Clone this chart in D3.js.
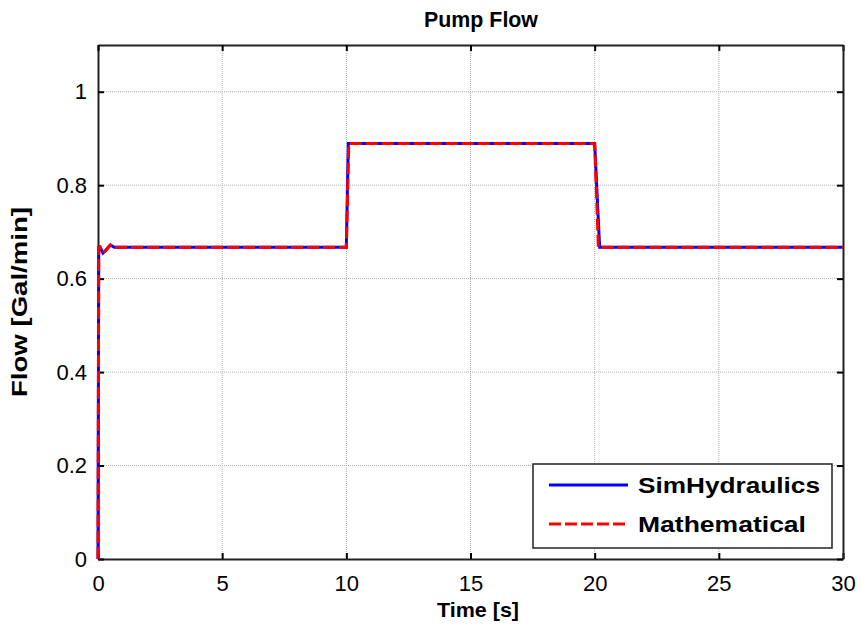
<!DOCTYPE html>
<html>
<head>
<meta charset="utf-8">
<script src="https://cdn.jsdelivr.net/npm/d3@7"></script>
<style>
  body { margin: 0; background: #fff; }
  svg text { font-family: Arial, "Liberation Sans", sans-serif; }
</style>
</head>
<body>
<svg id="chart" width="861" height="636"></svg>
<script>
// data
var simTime = [0, 0.03, 0.08, 0.2, 0.3, 0.5, 0.65, 10, 10.08, 20, 20.2, 30]
var simFlow = [0, 0.667, 0.668, 0.655, 0.66, 0.672, 0.667, 0.667, 0.889, 0.889, 0.667, 0.667]
var mathTime = [0, 0.03, 0.08, 0.2, 0.3, 0.5, 0.65, 10, 10.1, 20, 20.15, 30]
var mathFlow = [0, 0.667, 0.668, 0.655, 0.66, 0.672, 0.667, 0.667, 0.889, 0.889, 0.667, 0.667]
var xTicks = [0, 5, 10, 15, 20, 25, 30]
var yTicks = [0, 0.2, 0.4, 0.6, 0.8, 1]
var seriesNames = ["SimHydraulics", "Mathematical"]

window.onload = () => {
  draw_chart()
}

function draw_chart(){
  var svg = d3.select("#chart")
  var margin = {top: 45, right: 18, bottom: 77, left: 98},
      width = 861 - margin.left - margin.right,
      height = 636 - margin.top - margin.bottom

  var g = svg.append("g")
    .attr("transform", "translate(" + margin.left + "," + margin.top + ")")

  var x = d3.scaleLinear().domain([0, 30]).range([0, width])
  var y = d3.scaleLinear().domain([0, 1.1]).range([height, 0])

  // grid
  g.append("g")
    .selectAll("line")
    .data(xTicks.slice(1, -1))
    .enter().append("line")
      .attr("x1", d => x(d)).attr("x2", d => x(d))
      .attr("y1", 0).attr("y2", height)
      .attr("stroke", "#b0b0b0")
      .attr("stroke-width", 1)
      .attr("stroke-dasharray", "1,1")
  g.append("g")
    .selectAll("line")
    .data(yTicks.slice(1))
    .enter().append("line")
      .attr("x1", 0).attr("x2", width)
      .attr("y1", d => y(d)).attr("y2", d => y(d))
      .attr("stroke", "#b0b0b0")
      .attr("stroke-width", 1)
      .attr("stroke-dasharray", "1,1")

  // axes, ticks inside
  var xAxis = g.append("g")
    .attr("transform", "translate(0," + height + ")")
    .call(d3.axisBottom(x).tickValues(xTicks).tickSizeInner(-6).tickSizeOuter(0).tickPadding(16))
  var yAxis = g.append("g")
    .call(d3.axisLeft(y).tickValues(yTicks).tickFormat(d3.format("")).tickSizeInner(-6).tickSizeOuter(0).tickPadding(11))
  g.append("g")
    .call(d3.axisTop(x).tickValues(xTicks).tickSizeInner(-6).tickSizeOuter(0).tickFormat(""))
  g.append("g")
    .attr("transform", "translate(" + width + ",0)")
    .call(d3.axisRight(y).tickValues(yTicks).tickSizeInner(-6).tickSizeOuter(0).tickFormat(""))

  g.selectAll(".domain").attr("stroke", "#222").attr("stroke-width", 2)
  g.selectAll(".tick line").attr("stroke", "#000").attr("stroke-width", 2)
  g.selectAll(".tick text").attr("font-size", "22px").attr("fill", "#000")
  xAxis.selectAll(".tick text").attr("dy", "0.71em")

  // lines
  var line = d3.line()
    .x(d => x(d[0]))
    .y(d => y(d[1]))

  var simData = simTime.map((t, i) => [t, simFlow[i]])
  var mathData = mathTime.map((t, i) => [t, mathFlow[i]])

  g.append("path")
    .datum(simData)
    .attr("fill", "none")
    .attr("stroke", "#0000ff")
    .attr("stroke-width", 3)
    .attr("d", line)

  g.append("path")
    .datum(mathData)
    .attr("fill", "none")
    .attr("stroke", "#ff0000")
    .attr("stroke-width", 3)
    .attr("stroke-dasharray", "12,4")
    .attr("d", line)

  // title and labels
  svg.append("text")
    .attr("x", 481)
    .attr("y", 27)
    .attr("text-anchor", "middle")
    .attr("font-size", "22px")
    .attr("font-weight", "bold")
    .attr("textLength", 114)
    .attr("lengthAdjust", "spacingAndGlyphs")
    .text("Pump Flow")

  svg.append("text")
    .attr("x", 478)
    .attr("y", 617)
    .attr("text-anchor", "middle")
    .attr("font-size", "21px")
    .attr("font-weight", "bold")
    .attr("textLength", 82)
    .attr("lengthAdjust", "spacingAndGlyphs")
    .text("Time [s]")

  svg.append("text")
    .attr("transform", "translate(27," + (margin.top + height / 2) + ") rotate(-90)")
    .attr("text-anchor", "middle")
    .attr("font-size", "22px")
    .attr("font-weight", "bold")
    .attr("textLength", 190)
    .attr("lengthAdjust", "spacingAndGlyphs")
    .text("Flow [Gal/min]")

  // legend
  var legend = svg.append("g").attr("transform", "translate(533,464)")
  legend.append("rect")
    .attr("width", 299).attr("height", 84)
    .attr("fill", "#fff")
    .attr("stroke", "#222")
    .attr("stroke-width", 1.5)

  var colors = ["#0000ff", "#ff0000"]
  var dashes = [null, "12,4"]
  var textLens = [182, 168]
  seriesNames.forEach(function(name, i){
    var ly = 21 + i * 39
    legend.append("line")
      .attr("x1", 16).attr("x2", 95)
      .attr("y1", ly).attr("y2", ly)
      .attr("stroke", colors[i])
      .attr("stroke-width", 3)
      .attr("stroke-dasharray", dashes[i])
    legend.append("text")
      .attr("x", 105).attr("y", ly)
      .attr("dy", "0.35em")
      .attr("font-size", "22px")
      .attr("font-weight", "bold")
      .attr("textLength", textLens[i])
      .attr("lengthAdjust", "spacingAndGlyphs")
      .text(name)
  })
}
</script>
</body>
</html>
